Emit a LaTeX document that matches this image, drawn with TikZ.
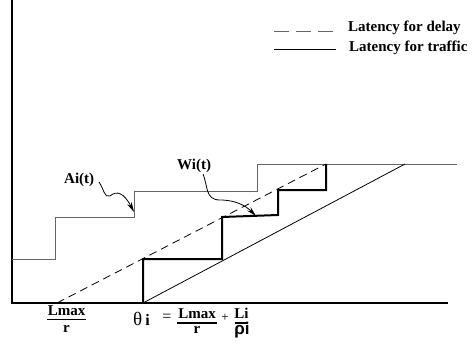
\documentclass[tikz,border=0pt]{standalone}
\usepackage{fontspec}
\setmainfont{Liberation Serif}
\newfontfamily\rhofont{Liberation Sans}
\usetikzlibrary{arrows.meta}
\begin{document}
\begin{tikzpicture}[x=1pt,y=-1pt,
  lbl/.style={font=\fontsize{15}{18}\selectfont\bfseries, inner sep=0pt, anchor=base},
  axis/.style={line width=1.6pt, black},
  arrival/.style={line width=1pt, black!60},
  service/.style={line width=2pt, black, line join=miter},
  guide/.style={line width=0.8pt, black},
  guidedash/.style={line width=0.8pt, black, dash pattern=on 8pt off 5pt},
  fbar/.style={line width=1.3pt, black},
  pointer/.style={line width=0.8pt, black, -{Stealth[length=10pt,width=5pt]}}]
\useasboundingbox (0,0) rectangle (473,345);
% axes
\coordinate (top) at (12,0);
\coordinate (origin) at (12,303);
\coordinate (xend) at (448,303);
\draw[axis] (top) -- (origin) -- (xend);
% arrival staircase A_i(t)
\coordinate (a0) at (12,259);
\coordinate (a1) at (55,259);
\coordinate (a2) at (55,217);
\coordinate (a3) at (134,217);
\coordinate (a4) at (134,191);
\coordinate (a5) at (257,191);
\coordinate (a6) at (257,164);
\coordinate (a7) at (457,164);
\draw[arrival] (a0) -- (a1) -- (a2) -- (a3) -- (a4) -- (a5) -- (a6) -- (a7);
% latency lines
\coordinate (d0) at (57,303);
\coordinate (d1) at (326,164);
\draw[guidedash] (d0) -- (d1);
\coordinate (s0) at (143,303);
\coordinate (s1) at (405,164);
\draw[guide] (s0) -- (s1);
% service staircase W_i(t)
\coordinate (w1) at (143,259);
\coordinate (w2) at (222,259);
\coordinate (w3) at (222,217);
\coordinate (w4) at (278,215);
\coordinate (w5) at (278,190);
\coordinate (w6) at (326,190);
\draw[service] (s0) -- (w1) -- (w2) -- (w3) -- (w4) -- (w5) -- (w6) -- (d1);
% labels and pointers
\node[lbl, anchor=base west] (Ai) at (64,183) {Ai(t)};
\coordinate (aistart) at (99,182);
\coordinate (aitip) at (134,212);
\draw[pointer] (aistart) .. controls (104,189) and (104,198) .. (110,196)
  .. controls (117,190) and (124,193) .. (aitip);
\node[lbl, anchor=base west] (Wi) at (177,169) {Wi(t)};
\coordinate (wistart) at (203,174);
\coordinate (witip) at (256,216);
\draw[pointer] (wistart) .. controls (208,186) and (205,200) .. (220,200)
  .. controls (236,200) and (246,206) .. (witip);
% legend
\coordinate (l1a) at (274,32);
\coordinate (l1b) at (336,32);
\draw[line width=1pt, black!60, dash pattern=on 15pt off 7pt] (l1a) -- (l1b);
\node[lbl, anchor=base west] (leg1) at (348,32) {Latency for delay};
\coordinate (l2a) at (274,50);
\coordinate (l2b) at (336,50);
\draw[line width=1pt, black] (l2a) -- (l2b);
\node[lbl, anchor=base west] (leg2) at (349,52) {Latency for traffic};
% bottom left fraction
\node[lbl] (lmaxA) at (66.5,315) {Lmax};
\coordinate (bA0) at (47,319.5);
\coordinate (bA1) at (86,319.5);
\draw[fbar] (bA0) -- (bA1);
\node[lbl] (rA) at (66.5,332) {r};
% theta expression
\node[lbl, anchor=base west] (theta) at (133,325) {\fontsize{19}{20}\selectfont\mdseries θ\,\fontsize{16}{18}\selectfont\bfseries i};
\node[lbl, font=\fontsize{16}{18}\selectfont, anchor=center] (eq) at (167,317.5) {=};
\node[lbl] (lmaxB) at (197,318) {Lmax};
\coordinate (bB0) at (177,323);
\coordinate (bB1) at (217,323);
\draw[fbar] (bB0) -- (bB1);
\node[lbl] (rB) at (197,333) {r};
\node[lbl, font=\fontsize{13}{14}\selectfont, anchor=center] (plus) at (225,318) {+};
\node[lbl] (Li) at (241.5,318) {Li};
\coordinate (bC0) at (235,323);
\coordinate (bC1) at (248,323);
\draw[fbar] (bC0) -- (bC1);
\node[lbl, font=\fontsize{17}{18}\selectfont\rhofont\bfseries] (rho) at (242,334) {ρi};
\end{tikzpicture}
\end{document}
